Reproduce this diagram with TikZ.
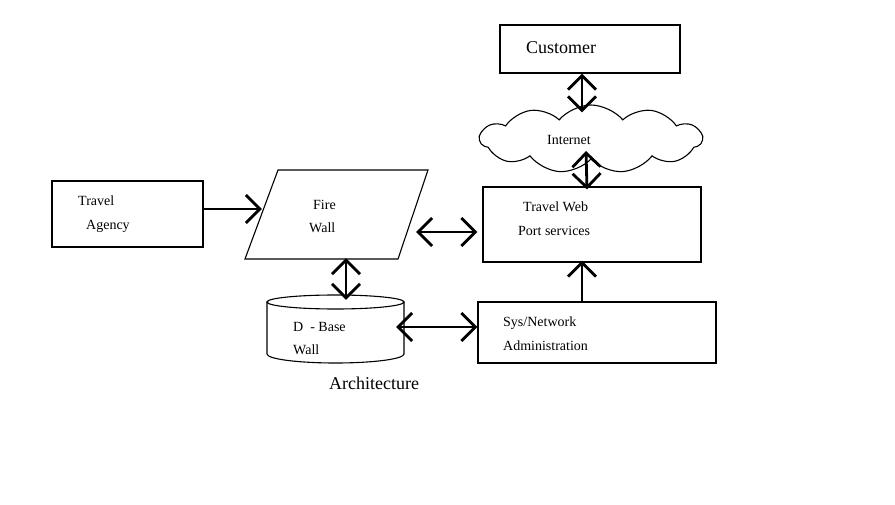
\documentclass[tikz,border=0pt]{standalone}
\usepackage{fontspec}
\setmainfont{Liberation Serif}
\usetikzlibrary{arrows.meta,shapes.symbols}
\begin{document}
\begin{tikzpicture}[x=1pt,y=-1pt,
  boxst/.style={draw,line width=1.1pt,inner sep=0pt},
  txt/.style={anchor=west,inner sep=0pt,font=\fontsize{14}{16}\selectfont},
  bigtxt/.style={anchor=west,inner sep=0pt,font=\fontsize{18}{20}\selectfont},
  dbl/.style={line width=2.8pt,{Straight Barb[length=14pt,width=28pt]}-{Straight Barb[length=14pt,width=28pt]}},
  sgl/.style={line width=2.8pt,-{Straight Barb[length=14pt,width=28pt]}}]
\useasboundingbox (0,0) rectangle (895,505);
% nodes
\node[boxst,minimum width=180pt,minimum height=48pt] (cust) at (590,49) {};
\node[draw,line width=1.1pt,cloud,cloud puffs=11,cloud puff arc=100,aspect=3.4,
      minimum width=222pt,minimum height=68pt,inner sep=0pt] (cloud) at (591,139) {};
\node[boxst,minimum width=218pt,minimum height=75pt] (tw) at (592,224.5) {};
\node[boxst,minimum width=151pt,minimum height=66pt] (ta) at (127.5,214) {};
\node[inner sep=0pt,minimum width=183pt,minimum height=89pt] (fw) at (336.5,214.5) {};
\node[inner sep=0pt,minimum width=137pt,minimum height=68pt] (db) at (335.5,329) {};
\node[boxst,minimum width=238pt,minimum height=61pt] (sys) at (597,332.5) {};
% firewall parallelogram
\draw[line width=1.1pt] (278,170) -- (428,170) -- (398,259) -- (245,259) -- cycle;
% cylinder
\draw[line width=1.1pt] (335.5,302) ellipse [x radius=68.5pt,y radius=7pt];
\draw[line width=1.1pt] (267,302) -- (267,354) arc[start angle=180,end angle=360,x radius=68.5pt,y radius=9pt] -- (404,302);
% texts
\node[bigtxt] (tcust) at (526,48) {Customer};
\node[txt] (tint) at (547,140) {Internet};
\node[txt] (ttw1) at (523,207) {Travel Web};
\node[txt] (ttw2) at (518,231) {Port services};
\node[txt] (tta1) at (78,201) {Travel};
\node[txt] (tta2) at (86,226) {Agency};
\node[txt] (tfw1) at (313,205) {Fire};
\node[txt] (tfw2) at (309,228) {Wall};
\node[txt] (tdb1) at (293,327) {D\ \ - Base};
\node[txt] (tdb2) at (293,350) {Wall};
\node[txt] (tsys1) at (503,323) {Sys/Network};
\node[txt] (tsys2) at (503,346) {Administration};
\node[bigtxt] (tarch) at (329,383) {Architecture};
% connectors
\draw[dbl] ([xshift=-8pt]cust.south) -- ([xshift=-9pt,yshift=-8pt]cloud.north);
\draw[dbl] ([xshift=-5pt,yshift=-12pt]cloud.center) -- ([xshift=-5pt,yshift=-3pt]tw.north);
\draw[sgl] ([yshift=5pt]ta.east) -- ([xshift=17pt,yshift=5.5pt]fw.west);
\draw[dbl] ([xshift=-12pt,yshift=-17.5pt]fw.east) -- ([xshift=-5pt,yshift=-7.5pt]tw.west);
\draw[dbl] ([xshift=9.5pt,yshift=1pt]fw.south) -- ([xshift=10.5pt,yshift=-5pt]db.north);
\draw[dbl] ([xshift=-8pt,yshift=2pt]db.east) -- ([yshift=5.5pt]sys.west);
\draw[sgl] ([xshift=-15pt]sys.north) -- ([xshift=-10pt,yshift=2pt]tw.south);
\end{tikzpicture}
\end{document}
